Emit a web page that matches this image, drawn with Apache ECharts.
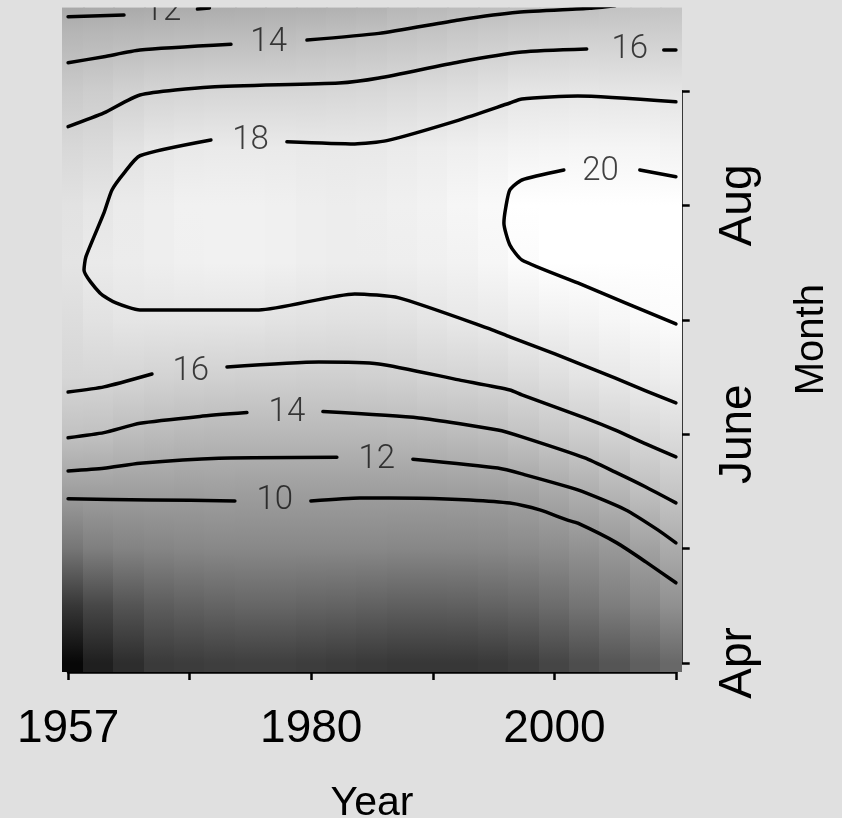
<!DOCTYPE html>
<html>
<head>
<meta charset="utf-8">
<title>Month by Year</title>
<script src="https://cdn.jsdelivr.net/npm/echarts@6/dist/echarts.min.js"></script>
<style>
    html, body { margin: 0; padding: 0; background: #e0e0e0; }
    #chart { width: 842px; height: 818px; }
</style>
</head>
<body>
<div id="chart"></div>
<script>
    // year index of each shaded column (0 = 1957, 20 = 1980, 40 = 2000)
    var colYears = [0, 2.5, 5, 7.5, 10, 12.5, 15, 17.5, 20, 22.5, 25, 27.5, 30, 32.5, 35, 37.5, 40, 42.5, 45, 47.5, 50];
    // month position of each row of values (0 = Apr, 2 = June, 4 = Aug)
    var monthStops = [0, 0.5, 1, 1.5, 2, 2.5, 3, 3.5, 4, 4.5, 5, 5.5, 5.75];
    // field values, one row per month stop, one value per column
    var fieldRows = [
        [-5.3, -2.8, -1.3, 0.0, 0.2, 0.4, 0.5, 0.5, 0.3, 0.1, -0.1, -0.3, -0.3, -0.3, -0.1, 0.3, 1.1, 2.0, 2.8, 3.8, 4.8],
        [-0.3, 1.3, 2.7, 3.6, 4.0, 4.4, 4.6, 4.6, 4.4, 4.2, 4.0, 3.8, 3.8, 3.9, 4.2, 4.6, 5.2, 6.0, 6.9, 7.9, 8.9],
        [6.2, 7.1, 7.6, 7.8, 8.0, 8.1, 8.1, 8.1, 8.1, 8.1, 8.1, 8.0, 8.0, 8.0, 8.1, 8.3, 8.6, 9.1, 9.7, 10.7, 11.7],
        [10.5, 10.5, 10.5, 10.5, 10.4, 10.5, 10.4, 10.4, 10.4, 10.4, 10.4, 10.4, 10.4, 10.5, 10.6, 10.9, 11.5, 12.1, 12.8, 13.8, 14.5],
        [14.1, 14.0, 13.6, 13.4, 13.2, 13.1, 13.0, 13.0, 13.0, 13.0, 13.1, 13.2, 13.3, 13.5, 13.7, 14.2, 14.7, 15.2, 15.8, 16.4, 16.8],
        [16.2, 16.2, 16.1, 15.8, 15.7, 15.6, 15.5, 15.5, 15.4, 15.4, 15.5, 15.6, 15.9, 16.1, 16.3, 16.7, 17.1, 17.6, 18.0, 18.4, 18.7],
        [16.9, 17.4, 17.7, 17.7, 17.7, 17.7, 17.7, 17.5, 17.4, 17.3, 17.3, 17.4, 17.7, 18.0, 18.2, 18.6, 18.9, 19.2, 19.5, 19.8, 20.1],
        [17.6, 18.2, 18.4, 18.6, 18.8, 18.9, 18.9, 18.8, 18.6, 18.5, 18.5, 18.6, 18.8, 19.1, 19.5, 20.0, 20.4, 20.6, 20.8, 20.9, 21.0],
        [17.4, 17.8, 18.3, 18.6, 18.9, 19.0, 18.9, 18.8, 18.6, 18.5, 18.6, 18.8, 19.1, 19.5, 19.8, 20.4, 20.7, 20.9, 21.0, 21.0, 21.0],
        [16.4, 16.6, 17.4, 17.9, 18.1, 18.2, 18.2, 18.2, 18.1, 18.1, 18.1, 18.3, 18.5, 18.7, 18.9, 19.2, 19.3, 19.4, 19.4, 19.4, 19.2],
        [14.9, 15.2, 15.6, 15.9, 16.1, 16.2, 16.2, 16.2, 16.2, 16.3, 16.4, 16.6, 16.8, 17.0, 17.3, 17.7, 17.7, 17.8, 17.7, 17.7, 17.6],
        [12.8, 12.9, 13.0, 13.2, 13.3, 13.4, 13.4, 13.5, 13.7, 13.8, 14.0, 14.2, 14.4, 14.7, 14.9, 15.1, 15.2, 15.3, 15.3, 15.3, 15.3],
        [11.4, 11.5, 11.5, 11.6, 11.7, 11.8, 11.9, 12.0, 12.0, 12.2, 12.3, 12.8, 13.0, 13.3, 13.5, 13.7, 13.8, 13.8, 14.0, 14.1, 14.2]
    ];

    // contour pieces [yearIndex, month], broken where the labels sit
    var c10a = [[0, 1.434], [6.74, 1.425], [13.72, 1.416]];
    var c10b = [[19.97, 1.416], [24.0, 1.442], [28.86, 1.44], [33.05, 1.425], [36.34, 1.397], [38.8, 1.337], [41.03, 1.25], [41.93, 1.221], [45.14, 1.049], [47.52, 0.883], [50, 0.70]];
    var c12a = [[0, 1.678], [2.95, 1.702], [5.91, 1.746], [12.41, 1.79], [22.11, 1.798]];
    var c12b = [[28.36, 1.781], [35.35, 1.703], [37.33, 1.652], [41.93, 1.512], [45.88, 1.337], [48.51, 1.163], [50, 1.049]];
    var c14a = [[0, 1.969], [2.95, 2.013], [5.91, 2.095], [10.85, 2.155], [14.71, 2.188]];
    var c14b = [[20.96, 2.197], [28.86, 2.141], [35.35, 2.036], [37.33, 1.976], [42.5, 1.792], [44.97, 1.67], [47.52, 1.538], [50, 1.399]];
    var c16a = [[0, 2.369], [2.95, 2.413], [6.9, 2.526]];
    var c16b = [[13.07, 2.587], [20.63, 2.631], [25.57, 2.614], [32.15, 2.474], [36.34, 2.386], [37.33, 2.343], [42.5, 2.142], [44.97, 2.037], [47.52, 1.914], [50, 1.801]];
    var c18a = [[11.75, 4.571], [5.91, 4.434], [4.6, 4.283], [3.61, 4.135], [2.95, 3.934], [1.47, 3.552], [1.31, 3.435], [2.62, 3.234], [3.94, 3.147], [5.91, 3.086], [15.7, 3.086], [23.58, 3.226], [27.21, 3.191], [34.69, 2.92], [36.34, 2.85], [40.04, 2.701], [42.5, 2.596], [44.97, 2.491], [47.52, 2.378], [50, 2.273]];
    var c18b = [[18.0, 4.556], [23.58, 4.537], [26.22, 4.566], [32.15, 4.746], [36.34, 4.895], [37.33, 4.93], [41.93, 4.956], [50, 4.906]];
    var c20a = [[40.78, 4.309], [37.33, 4.222], [36.34, 4.135], [36.01, 3.986], [35.85, 3.846], [36.34, 3.654], [37.33, 3.523], [41.93, 3.322], [50, 2.963]];
    var c20b = [[47.03, 4.309], [50, 4.251]];
    var c16c = [[0, 4.688], [2.95, 4.808], [5.91, 4.965], [11.75, 5.035], [22.28, 5.07], [25.57, 5.114], [32.15, 5.254], [37.33, 5.341], [42.66, 5.367]];
    var c16d = [[49.0, 5.358], [50, 5.358]];
    var c14c = [[0, 5.247], [2.95, 5.30], [5.91, 5.358], [13.4, 5.408]];
    var c14d = [[19.65, 5.446], [25.57, 5.504], [32.15, 5.621], [37.0, 5.688], [42.92, 5.723], [45, 5.745]];
    var c12c = [[0, 5.649], [4.6, 5.664]];
    var c12d = [[10.64, 5.717], [11.63, 5.726]];
    var contourSegs = [c10a, c10b, c12a, c12b, c14a, c14b, c16a, c16b, c18a, c18b, c20a, c20b, c16c, c16d, c14c, c14d, c12c, c12d];

    // contour labels [yearIndex, month, text]
    var contourLabels = [
        [17.0, 1.416, '10'], [25.4, 1.779, '12'], [18.0, 2.183, '14'], [10.1, 2.546, '16'],
        [15.0, 4.563, '18'], [43.8, 4.295, '20'], [46.2, 5.358, '16'], [16.5, 5.42, '14'], [7.8, 5.69, '12']
    ];

    var yearTickPos = [0, 20, 40];
    var yearTickText = ['1957', '1980', '2000'];
    var monthTickPos = [0, 2, 4];
    var monthTickText = ['Apr', 'June', 'Aug'];

    var xLow = -0.5, xHigh = 50.5, yLow = -0.08, yHigh = 5.732;
    var shadeLow = -6, shadeHigh = 20.4;

    function grayOf(v) {
        var g = Math.round((v - shadeLow) / (shadeHigh - shadeLow) * 255);
        g = Math.max(0, Math.min(255, g));
        return 'rgb(' + g + ',' + g + ',' + g + ')';
    }

    function renderColumn(params, api) {
        var i = api.value(1);
        var x = colYears[i];
        var xa = Math.max(x - 1.25, xLow);
        var xb = Math.min(x + 1.25, xHigh);
        var pa = api.coord([xa, yHigh]);
        var pb = api.coord([xb, yLow]);
        var yTop = api.coord([0, monthStops[monthStops.length - 1]])[1];
        var yBot = api.coord([0, monthStops[0]])[1];
        var stops = [];
        for (var j = monthStops.length - 1; j >= 0; j--) {
            var y = api.coord([0, monthStops[j]])[1];
            stops.push({ offset: (y - yTop) / (yBot - yTop), color: grayOf(fieldRows[j][i]) });
        }
        var left = Math.floor(pa[0]);
        var right = Math.ceil(pb[0]) + (i < colYears.length - 1 ? 1 : 0);
        return {
            type: 'rect',
            shape: { x: left, y: pa[1], width: right - left, height: pb[1] - pa[1] },
            style: { fill: new echarts.graphic.LinearGradient(0, yTop, 0, yBot, stops, true) }
        };
    }

    var labelFont = 'Liberation Sans, Arial, sans-serif';

    var series = [{
        type: 'custom',
        xAxisIndex: 0,
        yAxisIndex: 0,
        clip: true,
        z: 1,
        renderItem: renderColumn,
        data: colYears.map(function (x, i) { return [x, i]; })
    }];

    contourSegs.forEach(function (seg) {
        series.push({
            type: 'line',
            xAxisIndex: 0,
            yAxisIndex: 0,
            data: seg,
            showSymbol: false,
            symbol: 'none',
            smooth: 0.2,
            clip: true,
            z: 3,
            lineStyle: { color: '#000', width: 3.5, cap: 'round', join: 'round' }
        });
    });

    series.push({
        type: 'scatter',
        xAxisIndex: 0,
        yAxisIndex: 0,
        symbolSize: 0,
        z: 4,
        data: contourLabels,
        label: {
            show: true,
            position: 'inside',
            formatter: function (p) { return p.data[2]; },
            fontFamily: 'Roboto, sans-serif',
            fontWeight: 300,
            fontSize: 33,
            color: '#111'
        }
    });

    var myChart = echarts.init(document.getElementById('chart'));

    var option = {
        animation: false,
        backgroundColor: '#e0e0e0',
        grid: [
            { left: 62, right: 160, top: 7.3, bottom: 146, outerBoundsMode: 'none' },
            { left: 68.1, right: 166, top: 91, bottom: 155, outerBoundsMode: 'none' }
        ],
        xAxis: [
            {
                gridIndex: 0, type: 'value', min: xLow, max: xHigh,
                axisLine: { show: false }, axisTick: { show: false },
                axisLabel: { show: false }, splitLine: { show: false },
                name: 'Year', nameLocation: 'middle', nameGap: 111, nameMoveOverlap: false,
                nameTextStyle: { fontFamily: labelFont, fontSize: 41, lineHeight: 41, color: '#000' }
            },
            {
                gridIndex: 1, type: 'value', min: 0, max: 50, interval: 10, offset: 9,
                axisLine: { show: true, onZero: false, lineStyle: { color: '#000', width: 2.5 } },
                axisTick: { show: true, length: 8, lineStyle: { color: '#000', width: 2.5 } },
                splitLine: { show: false },
                axisLabel: {
                    margin: 34,
                    fontFamily: labelFont, fontSize: 46, lineHeight: 46, color: '#000',
                    showMinLabel: true, showMaxLabel: true,
                    formatter: function (v) {
                        var k = yearTickPos.indexOf(v);
                        return k < 0 ? '' : yearTickText[k];
                    }
                }
            }
        ],
        yAxis: [
            {
                gridIndex: 0, type: 'value', min: yLow, max: yHigh, position: 'right',
                axisLine: { show: false }, axisTick: { show: false },
                axisLabel: { show: false }, splitLine: { show: false },
                name: 'Month', nameLocation: 'middle', nameRotate: 90, nameGap: 110, nameMoveOverlap: false,
                nameTextStyle: { fontFamily: labelFont, fontSize: 40, lineHeight: 40, color: '#000' }
            },
            {
                gridIndex: 1, type: 'value', min: 0, max: 5, interval: 1, position: 'right', offset: 5.7,
                axisLine: { show: true, onZero: false, lineStyle: { color: '#000', width: 2.5 } },
                axisTick: { show: true, length: 8, lineStyle: { color: '#000', width: 2.5 } },
                splitLine: { show: false },
                axisLabel: {
                    rotate: 90, margin: 34,
                    fontFamily: labelFont, fontSize: 46, lineHeight: 46, color: '#000',
                    showMinLabel: true, showMaxLabel: true,
                    formatter: function (v) {
                        var k = monthTickPos.indexOf(v);
                        return k < 0 ? '' : monthTickText[k];
                    }
                }
            }
        ],
        graphic: [{
            type: 'rect', z: 100,
            shape: { x: 0, y: 0, width: 842, height: 7.3 },
            style: { fill: '#e0e0e0' }
        }],
        series: series
    };

    myChart.setOption(option);
</script>
</body>
</html>
